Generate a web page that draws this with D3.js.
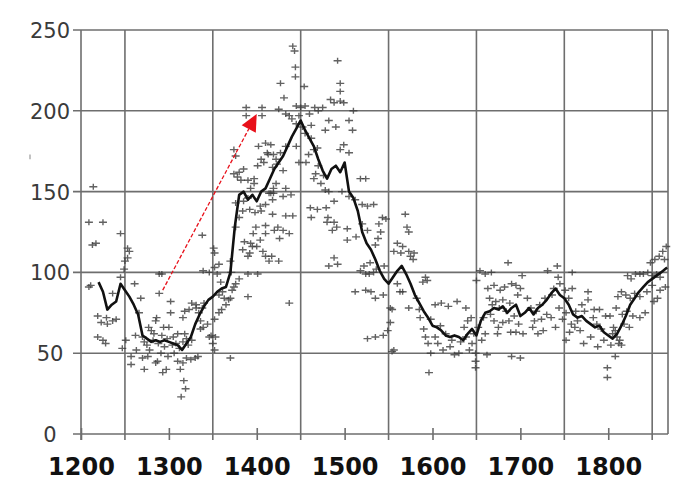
<!DOCTYPE html>
<html>
<head>
<meta charset="utf-8">
<script src="https://cdn.jsdelivr.net/npm/d3@7"></script>
<style>
    body { margin: 0; background: #fff; }
    svg { display: block; }
</style>
</head>
<body>
<div class="chart"></div>
<script>
// Data: scatter points [year, value], split by century
const pts1200 = [
    [1214,153],[1209,131],[1225,131],[1213,117],[1217,118],[1245,124],[1253,115],[1255,113],
    [1253,109],[1250,107],[1249,102],[1245,97],[1209,91],[1211,92],[1261,93],[1268,84],
    [1289,87],[1289,99],[1292,99],[1236,87],[1219,73],[1223,69],[1230,68],[1236,70],
    [1266,75],[1285,70],[1219,60],[1225,58],[1228,56],[1280,64],[1283,62],[1247,53],
    [1251,58],[1257,48],[1257,43],[1270,47],[1272,40],[1276,48],[1287,45],[1291,50],
    [1299,48],[1297,40],[1293,38],[1285,44],[1275,55],[1272,57],[1278,52],[1282,58],
    [1288,56],[1292,61],[1295,54],[1298,59],[1263,52],[1277,66],[1294,66],[1286,72],
    [1229,72],[1240,71],[1262,61],[1270,60]
];
const pts1300 = [
    [1302,82],[1302,75],[1300,66],[1306,50],[1314,23],[1317,33],[1319,28],[1310,45],
    [1313,40],[1316,44],[1320,47],[1325,46],[1330,47],[1333,48],[1305,60],[1308,56],
    [1312,53],[1316,57],[1320,59],[1304,55],[1310,62],[1318,62],[1322,55],[1326,58],
    [1316,72],[1318,76],[1323,77],[1326,81],[1331,80],[1334,75],[1338,78],[1340,81],
    [1336,70],[1339,66],[1344,68],[1336,65],[1348,61],[1350,56],[1352,52],[1339,101],
    [1346,100],[1352,103],[1352,112],[1357,105],[1338,123],[1351,115],[1355,99],[1359,94],
    [1361,88],[1363,84],[1357,86],[1360,77],[1365,80],[1368,83],[1370,84],[1372,89],
    [1376,93],[1380,96],[1374,91],[1370,47],[1346,60],[1353,60],[1352,71],[1357,75],
    [1331,78],[1390,99],[1392,112],[1395,116],[1401,99],[1390,85],[1376,128],[1380,134],
    [1376,172],[1374,176],[1378,159],[1380,162],[1385,164],[1385,144],[1376,143],[1390,146],
    [1393,152],[1390,157],[1397,155],[1397,158],[1388,202],[1388,197],[1374,161],[1382,157],
    [1390,110],[1393,118],[1396,124],[1386,119],[1384,114],[1399,128],[1398,137],[1384,138],
    [1392,139],[1370,107],[1371,100]
];
const pts1400 = [
    [1406,202],[1406,197],[1402,178],[1410,180],[1416,179],[1413,173],[1419,173],[1401,166],
    [1405,170],[1408,168],[1410,142],[1414,149],[1418,145],[1404,141],[1412,174],[1418,165],
    [1422,170],[1427,174],[1423,167],[1416,149],[1422,155],[1419,152],[1405,138],[1410,129],
    [1418,136],[1410,124],[1404,120],[1400,116],[1410,110],[1417,110],[1407,113],[1414,107],
    [1425,201],[1427,217],[1431,208],[1433,198],[1441,240],[1443,237],[1444,227],[1444,221],
    [1445,203],[1450,202],[1454,215],[1448,197],[1455,203],[1460,198],[1466,202],[1470,200],
    [1475,202],[1437,197],[1440,195],[1445,192],[1452,190],[1462,191],[1478,188],[1482,194],
    [1433,178],[1445,178],[1459,173],[1465,176],[1469,177],[1448,168],[1456,168],[1430,163],
    [1433,152],[1467,161],[1473,155],[1478,151],[1482,150],[1433,135],[1441,135],[1430,126],
    [1437,124],[1424,128],[1461,140],[1469,139],[1462,134],[1479,140],[1481,134],[1488,131],
    [1480,131],[1486,126],[1491,128],[1420,126],[1426,121],[1425,107],[1437,81],[1482,104],
    [1488,109],[1492,105],[1488,205],[1495,206],[1499,205],[1492,231],[1495,217],[1495,212],
    [1484,207],[1490,190],[1495,176],[1465,158],[1470,166],[1476,160],[1497,150],[1488,144],
    [1419,149],[1430,147],[1439,148],[1455,186],[1462,183]
];
const pts1500 = [
    [1510,200],[1505,194],[1509,188],[1499,179],[1505,174],[1518,158],[1524,158],[1505,147],
    [1512,145],[1520,142],[1526,141],[1533,142],[1503,127],[1503,120],[1513,122],[1520,130],
    [1526,126],[1539,130],[1543,134],[1547,133],[1535,117],[1538,121],[1541,125],[1569,136],
    [1571,128],[1573,125],[1556,113],[1560,118],[1566,116],[1564,112],[1575,110],[1579,112],
    [1573,113],[1518,101],[1524,99],[1528,99],[1533,100],[1522,104],[1529,106],[1536,102],
    [1512,88],[1530,88],[1535,84],[1544,86],[1524,89],[1549,64],[1526,59],[1535,60],
    [1544,61],[1554,51],[1556,52],[1552,78],[1552,69],[1566,88],[1563,88],[1573,78],
    [1585,77],[1554,77],[1589,94],[1592,97],[1594,95],[1586,72],[1598,71],[1590,65],
    [1596,38],[1592,60],[1595,56],[1598,50],[1582,84],[1560,93],[1545,104],[1578,108]
];
const pts1600 = [
    [1603,80],[1610,81],[1618,79],[1628,82],[1609,67],[1603,60],[1606,56],[1612,52],
    [1620,54],[1625,49],[1630,50],[1615,62],[1622,58],[1632,57],[1638,60],[1642,52],
    [1645,56],[1647,62],[1649,50],[1649,45],[1649,41],[1640,70],[1636,66],[1644,72],
    [1638,78],[1654,101],[1660,99],[1667,100],[1650,95],[1686,106],[1663,90],[1670,92],
    [1677,89],[1682,91],[1690,93],[1695,92],[1700,90],[1665,84],[1672,82],[1680,83],
    [1688,81],[1697,86],[1658,72],[1666,74],[1670,70],[1675,66],[1680,69],[1687,70],
    [1693,73],[1698,68],[1660,62],[1674,62],[1689,63],[1695,63],[1662,49],[1690,48],
    [1652,66],[1656,58],[1684,76],[1676,78],[1668,80]
];
const pts1700 = [
    [1702,98],[1700,47],[1703,62],[1708,84],[1712,78],[1718,76],[1722,80],[1716,70],
    [1724,71],[1730,74],[1714,66],[1720,62],[1731,101],[1742,104],[1743,97],[1745,93],
    [1736,86],[1738,90],[1728,84],[1751,89],[1755,84],[1759,90],[1759,100],[1748,71],
    [1752,75],[1744,78],[1770,80],[1777,88],[1777,83],[1773,76],[1765,70],[1768,64],
    [1758,68],[1762,66],[1752,58],[1756,63],[1783,72],[1787,68],[1792,65],[1797,73],
    [1795,58],[1788,54],[1780,60],[1772,56],[1799,41],[1799,35],[1740,66],[1735,72],
    [1726,64],[1790,77],[1784,77],[1763,76]
];
const pts1800 = [
    [1802,73],[1806,66],[1803,55],[1808,48],[1812,56],[1815,55],[1805,62],[1810,60],
    [1813,58],[1811,85],[1815,88],[1820,86],[1825,84],[1830,87],[1836,85],[1844,88],
    [1822,98],[1826,96],[1831,99],[1836,99],[1840,99],[1845,100],[1850,98],[1855,99],
    [1859,97],[1848,106],[1853,108],[1858,110],[1862,113],[1866,116],[1864,108],[1809,78],
    [1816,74],[1821,76],[1828,73],[1836,72],[1842,75],[1852,82],[1856,84],[1859,89],
    [1865,91],[1850,92],[1818,68],[1824,66],[1808,64]
];

// Data: smoothed line
const lineYears = [
    1220,1225,1230,1235,1240,1245,1250,1255,1260,1265,1270,1275,1280,1285,1290,1295,
    1300,1305,1310,1315,1320,1325,1330,1335,1340,1345,1350,1355,1360,1365,1370,1375,
    1380,1385,1390,1395,1400,1405,1410,1415,1420,1425,1430,1435,1440,1445,1450,1455,
    1460,1465,1470,1475,1480,1485,1490,1495,1500,1505,1510,1515,1520,1525,1530,1535,
    1540,1545,1550,1555,1560,1565,1570,1575,1580,1585,1590,1595,1600,1605,1610,1615,
    1620,1625,1630,1635,1640,1645,1650,1655,1660,1665,1670,1675,1680,1685,1690,1695,
    1700,1705,1710,1715,1720,1725,1730,1735,1740,1745,1750,1755,1760,1765,1770,1775,
    1780,1785,1790,1795,1800,1805,1810,1815,1820,1825,1830,1835,1840,1845,1850,1855,
    1860,1867
];
const lineValues = [
    94,88,77,80,82,93,89,85,80,74,61,59,57,58,57,58,
    57,56,55,52,56,60,68,74,79,83,85,88,90,91,100,128,
    148,150,145,148,144,150,152,158,164,168,172,178,184,189,194,188,
    183,178,170,163,158,164,166,162,168,150,146,138,125,118,114,108,
    101,96,93,97,101,104,99,93,86,81,76,72,67,66,64,61,
    60,61,60,58,62,65,61,70,75,76,78,77,79,75,78,80,
    73,75,78,74,78,80,83,87,90,86,84,80,74,72,73,70,
    68,66,67,63,61,59,62,67,73,80,84,88,91,94,96,98,
    100,103
];

// Annotation arrow [year, value]
const arrowFrom = [1293, 89];
const arrowTo = [1400, 198];

// Axis ticks
const xTickValues = [1200, 1300, 1400, 1500, 1600, 1700, 1800];
const xGridValues = [1250, 1350, 1450, 1550, 1650, 1750, 1850];
const yTickValues = [0, 50, 100, 150, 200, 250];

// Main
const svgWidth = 697;
const svgHeight = 484;
const margin = { top: 30, right: 29, bottom: 50, left: 81 };
const width = svgWidth - margin.left - margin.right;
const height = svgHeight - margin.top - margin.bottom;

const xScale = d3.scaleLinear().domain([1200, 1868]).range([0, width]);
const yScale = d3.scaleLinear().domain([0, 250]).range([height, 0]);

const svg = d3.select('.chart')
    .append('svg')
    .attr('width', svgWidth)
    .attr('height', svgHeight)
    .append('g')
    .attr('transform', 'translate(' + margin.left + ',' + margin.top + ')');

const gridColor = '#6e6e6e';

// Grid: horizontal lines (stick out a bit on the left)
svg.append('g')
    .selectAll('line')
    .data(yTickValues)
    .enter()
    .append('line')
    .attr('x1', -8)
    .attr('x2', width)
    .attr('y1', d => yScale(d))
    .attr('y2', d => yScale(d))
    .style('stroke', gridColor)
    .style('stroke-width', 1.6);

// Grid: vertical lines (stick out a bit below)
svg.append('g')
    .selectAll('line')
    .data([1200].concat(xGridValues))
    .enter()
    .append('line')
    .attr('x1', d => xScale(d))
    .attr('x2', d => xScale(d))
    .attr('y1', 0)
    .attr('y2', height + 6)
    .style('stroke', gridColor)
    .style('stroke-width', 1.6);

// right border
svg.append('line')
    .attr('x1', xScale(1868)).attr('x2', xScale(1868))
    .attr('y1', 0).attr('y2', height)
    .style('stroke', gridColor)
    .style('stroke-width', 1.6);

// X axis (short ticks crossing the bottom line)
const xAxis = d3.axisBottom(xScale)
    .tickValues(xTickValues)
    .tickFormat(d3.format('d'))
    .tickSize(6);
const xAxisDraw = svg.append('g')
    .attr('class', 'x axis')
    .attr('transform', 'translate(0,' + height + ')');
xAxis(xAxisDraw);
xAxisDraw.select('.domain').remove();
xAxisDraw.selectAll('.tick line')
    .attr('y1', -6)
    .style('stroke', gridColor)
    .style('stroke-width', 1.6);
xAxisDraw.selectAll('.tick text')
    .attr('y', 41)
    .attr('dy', 0)
    .style('font-family', 'DejaVu Sans')
    .style('font-size', '24px')
    .style('font-weight', 'bold')
    .style('fill', '#111');

// Y axis labels
const yAxis = d3.axisLeft(yScale)
    .tickValues(yTickValues)
    .tickSize(0);
const yAxisDraw = svg.append('g').attr('class', 'y axis');
yAxis(yAxisDraw);
yAxisDraw.select('.domain').remove();
yAxisDraw.selectAll('.tick text')
    .attr('x', -31)
    .attr('dy', '0.36em')
    .style('text-anchor', 'middle')
    .style('font-family', 'DejaVu Sans')
    .style('font-size', '21px')
    .style('fill', '#3a3a3a');

// little stray mark left of the axis
svg.append('line')
    .attr('x1', -51).attr('x2', -51)
    .attr('y1', yScale(173)).attr('y2', yScale(170))
    .style('stroke', '#999')
    .style('stroke-width', 1.2);

// Scatter '+' markers
const allPoints = [].concat(pts1200, pts1300, pts1400, pts1500, pts1600, pts1700, pts1800);
svg.append('g')
    .selectAll('.pt')
    .data(allPoints)
    .enter()
    .append('path')
    .attr('class', 'pt')
    .attr('d', d => {
        const x = xScale(d[0]);
        const y = yScale(d[1]);
        return 'M' + (x - 4) + ',' + y + 'H' + (x + 4) + 'M' + x + ',' + (y - 3) + 'V' + (y + 3);
    })
    .style('stroke', '#3c3c3c')
    .style('stroke-width', 1.4)
    .style('opacity', 0.8);

// Smoothed line
const line = d3.line()
    .x((d, i) => xScale(lineYears[i]))
    .y(d => yScale(d));
svg.append('path')
    .datum(lineValues)
    .attr('d', line)
    .style('fill', 'none')
    .style('stroke', '#111')
    .style('stroke-width', 2.6)
    .style('stroke-linejoin', 'round');

// Red dashed arrow
const ax0 = xScale(arrowFrom[0]), ay0 = yScale(arrowFrom[1]);
const ax1 = xScale(arrowTo[0]), ay1 = yScale(arrowTo[1]);
const len = Math.hypot(ax1 - ax0, ay1 - ay0);
const ux = (ax1 - ax0) / len, uy = (ay1 - ay0) / len;
const headLen = 17, headHalf = 8;
const bx = ax1 - ux * headLen, by = ay1 - uy * headLen;

svg.append('line')
    .attr('x1', ax0).attr('y1', ay0)
    .attr('x2', bx).attr('y2', by)
    .style('stroke', '#e8101a')
    .style('stroke-width', 1.3)
    .style('stroke-dasharray', '4,2');

svg.append('path')
    .attr('d', 'M' + ax1 + ',' + ay1 +
        'L' + (bx - uy * headHalf) + ',' + (by + ux * headHalf) +
        'L' + (bx + uy * headHalf) + ',' + (by - ux * headHalf) + 'Z')
    .style('fill', '#e8101a');
</script>
</body>
</html>
